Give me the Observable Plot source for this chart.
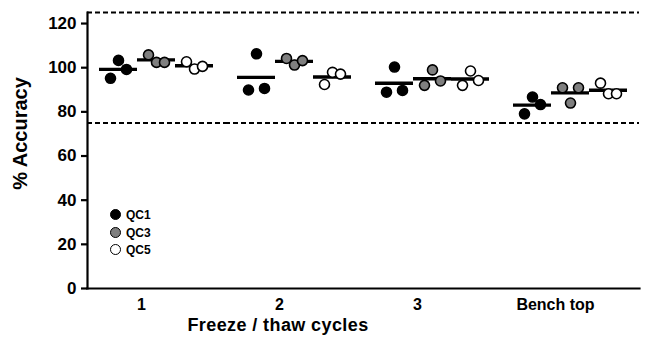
<!DOCTYPE html>
<html><head><meta charset="utf-8">
<script src="https://cdn.jsdelivr.net/npm/d3@7"></script>
<script src="https://cdn.jsdelivr.net/npm/@observablehq/plot@0.6"></script>
<style>
html,body{margin:0;padding:0;background:#fff;}
#wrap{position:relative;width:646px;height:337px;font-family:"Liberation Sans",Arial,sans-serif;}
#xtitle{position:absolute;left:0;top:315px;width:556px;text-align:center;font-weight:bold;font-size:18px;letter-spacing:0.4px;color:#000;}
#legend{position:absolute;left:110px;top:207px;font-weight:bold;font-size:12px;line-height:17.5px;}
#legend .sw{display:inline-block;width:9px;height:9px;border-radius:50%;border:1.5px solid #000;margin-right:5px;vertical-align:-1px;}
</style></head>
<body><div id="wrap"><div id="chart"></div><div id="xtitle"></div><div id="legend"></div></div>
<script>
// ---- data ----
const cycles = ["1", "2", "3", "Bench top"];
const qcLevels = ["QC1", "QC3", "QC5"];
// replicate values per cycle (left to right as drawn)
const qc1 = [[95.2, 103.3, 99.2], [89.9, 106.3, 90.6], [88.9, 100.3, 89.7], [79.1, 86.7, 83.3]];
const qc3 = [[105.8, 102.4, 102.4], [104.2, 101.2, 103.2], [92.0, 99.0, 94.0], [90.9, 84.0, 90.9]];
const qc5 = [[102.7, 99.4, 100.6], [92.4, 97.9, 97.1], [92.0, 98.5, 94.2], [93.0, 88.2, 88.2]];
const limits = [75, 125];
const yTicks = [0, 20, 40, 60, 80, 100, 120];
const yLabel = "% Accuracy";
const xLabel = "Freeze / thaw cycles";

// ---- styles ----
const fills = {QC1: "#000000", QC3: "#7f7f7f", QC5: "#ffffff"};

const series = {QC1: qc1, QC3: qc3, QC5: qc5};
const rows = [];
qcLevels.forEach(q => cycles.forEach((c, i) => series[q][i].forEach((v, j) => rows.push({cycle: c, qc: q, rep: j, value: v}))));

const dotMarks = [0, 1, 2].map(k => Plot.dot(rows.filter(d => d.rep === k), {
  fx: "cycle", x: "qc", y: "value", r: 5, fill: d => fills[d.qc], stroke: "#000", strokeWidth: 1.6, dx: (k - 1) * 8
}));

const chart = Plot.plot({
  width: 646, height: 316,
  marginLeft: 86, marginRight: 6, marginTop: 12, marginBottom: 28,
  style: {fontFamily: "Liberation Sans, Arial, sans-serif", background: "#fff", color: "#000"},
  fx: {domain: cycles, padding: 0, label: null, axis: null},
  x: {domain: qcLevels, paddingInner: 0, paddingOuter: 0.3, axis: null},
  y: {domain: [0, 125], label: null},
  color: {type: "identity"},
  marks: [
    Plot.ruleY(limits, {stroke: "#000", strokeWidth: 2, strokeDasharray: "5,3"}),
    Plot.axisY({ticks: yTicks, tickSize: 6, tickPadding: 5, strokeWidth: 2.2, fontSize: 17, fontWeight: "bold", label: null}),
    Plot.axisFx({anchor: "bottom", tickSize: 0, tickPadding: 10, dx: -15, fontSize: 16, fontWeight: "bold", label: null}),
    Plot.frame({anchor: "left", facet: "super", strokeWidth: 2.2}),
    Plot.frame({anchor: "bottom", facet: "super", strokeWidth: 2.2}),
    Plot.tickY(rows, Plot.groupX({y: "mean"}, {fx: "cycle", x: "qc", y: "value", strokeWidth: 3.4, stroke: "#000"})),
    ...dotMarks,
    Plot.text([yLabel], {facet: "super", frameAnchor: "left", textAnchor: "middle", rotate: -90, dx: -67, dy: -17, fontSize: 20, fontWeight: "bold"})
  ]
});
document.getElementById("chart").appendChild(chart);
document.getElementById("xtitle").textContent = xLabel;
document.getElementById("legend").innerHTML = qcLevels.map(q =>
  `<div><span class="sw" style="background:${fills[q]}"></span>${q}</div>`).join("");
</script>
</body></html>
